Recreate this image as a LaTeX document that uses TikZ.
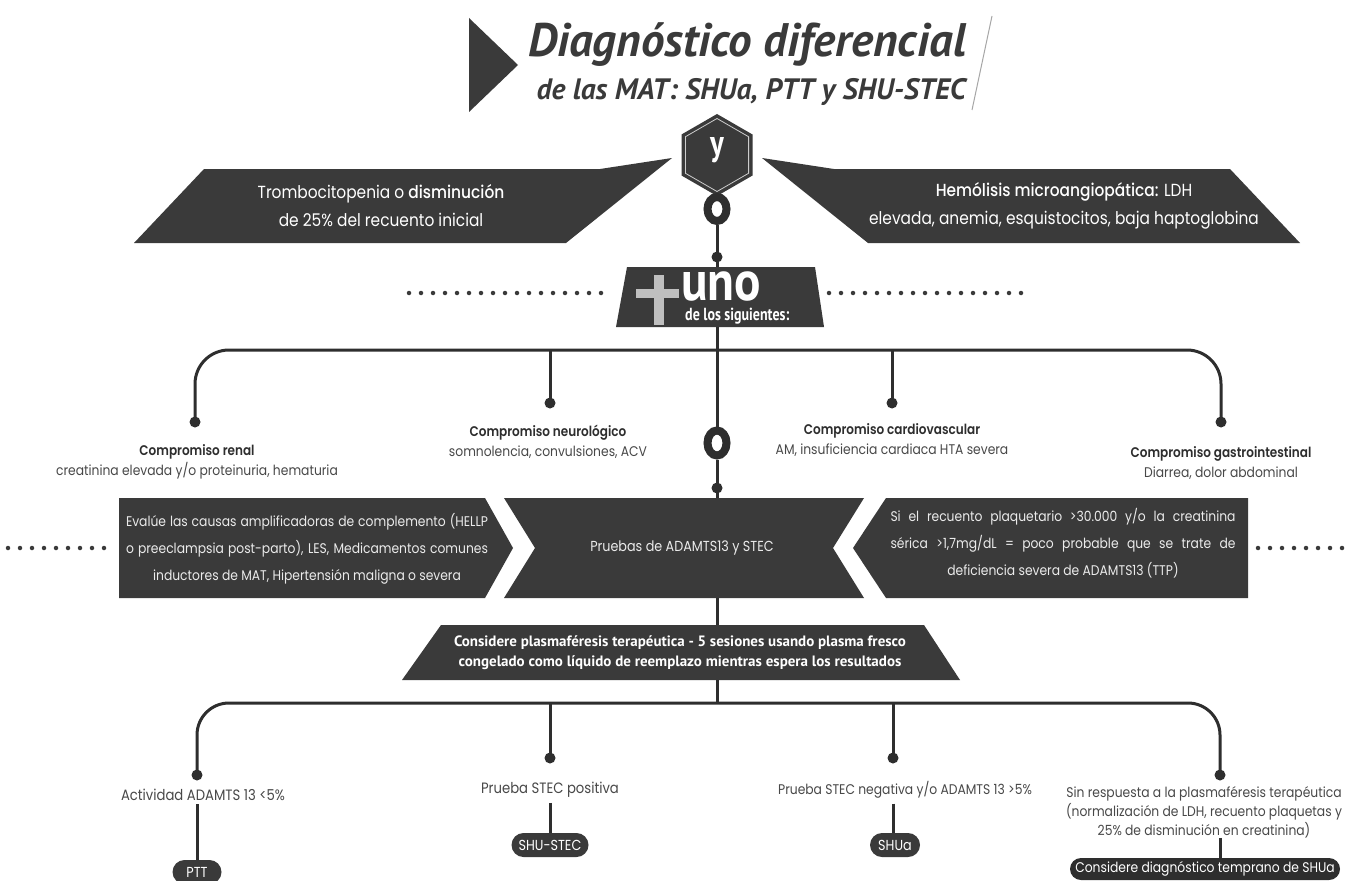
\documentclass[tikz,border=0pt]{standalone}
\usepackage{fontspec}
\setmainfont{Poppins}[FakeStretch=0.88]
\newfontfamily\medf{Poppins Medium}[FakeStretch=0.88]
\newfontfamily\semf{Poppins SemiBold}[FakeStretch=0.86]
\newfontfamily\condf[FakeStretch=0.8]{PT Sans}
\newfontfamily\unof[FakeStretch=0.88]{PT Sans}
\newfontfamily\ptf{PT Sans}
\usetikzlibrary{shapes.geometric,shapes.misc}
\definecolor{dk}{HTML}{3A3A3A}
\definecolor{tx}{HTML}{484848}
\definecolor{ln}{HTML}{2E2E2E}
\newcommand\jline[2]{\makebox[#1][s]{#2}}
\begin{document}
\begin{tikzpicture}[x=1pt,y=-1pt,
  conn/.style={draw=ln,line width=3pt},
  dotn/.style={circle,fill=ln,inner sep=0pt,minimum size=11pt},
  ringn/.style={ellipse,draw=ln,line width=8pt,minimum width=19pt,minimum height=24pt,inner sep=0pt},
  dotline/.style={draw=dk,line width=4.5pt,line cap=round,dash pattern=on 0pt off 12pt},
  wtxt/.style={text=white,font=\fontsize{17.5}{28}\selectfont,align=center,inner sep=0pt},
  btxt/.style={text=tx,font=\fontsize{14}{20}\selectfont,align=center,inner sep=0pt},
  ptxt/.style={text=white!92!black,font=\fontsize{14}{27}\selectfont,align=center,inner sep=0pt},
  pill/.style={rounded rectangle,fill=dk,text=white,minimum height=24pt,inner ysep=0pt,inner xsep=7pt,font=\fontsize{14.5}{16}\selectfont}
]
\useasboundingbox (0,0) rectangle (1348,880);
\fill[white] (0,0) rectangle (1348,880);

% ---------- title ----------
\fill[dk] (469,18) -- (518,65) -- (469,112) -- cycle;
\node[anchor=base east,inner sep=0pt,text=dk,font=\ptf\bfseries\itshape\fontsize{47}{47}\selectfont] (t1) at (966,57) {Diagnóstico diferencial};
\node[anchor=base east,inner sep=0pt,text=dk,font=\ptf\bfseries\itshape\fontsize{29.5}{30}\selectfont] (t2) at (966,100) {de las MAT: SHUa, PTT y SHU-STEC};
\draw[gray!70,line width=1pt] (992,16) -- (972,110);

% ---------- top banners ----------
\fill[dk] (672,158) -- (600,169) -- (204,169) -- (134,243) -- (566,243) -- cycle;
\node[wtxt] (tromb) at (381,206) {Trombocitopenia o {\medf disminución}\\de 25\% del recuento inicial};
\fill[dk] (762,158) -- (834,169) -- (1230,169) -- (1300,243) -- (868,243) -- cycle;
\node[wtxt] (hemo) at (1064,206) {{\medf Hemólisis microangiopática:} LDH\\elevada, anemia, esquistocitos, baja haptoglobina};

% ---------- hexagon y ----------
\node[regular polygon,regular polygon sides=6,shape border rotate=30,fill=dk,minimum size=82pt,inner sep=0pt] (hex) at (717,155) {};
\node[regular polygon,regular polygon sides=6,shape border rotate=30,draw=white!80!black,line width=0.8pt,minimum size=73pt,inner sep=0pt] (hexin) at (717,155) {};
\node[text=white,font=\condf\bfseries\fontsize{36}{36}\selectfont,inner sep=0pt] (ylet) at (717,150) {y};

\node[ringn] (r1) at (717,209) {};
\node[dotn] (p1) at (717,257) {};
\draw[conn] (r1.south) -- (p1.center);

% ---------- uno box ----------
\fill[dk] (627,267) -- (815,267) -- (824,327) -- (616,327) -- cycle;
\coordinate (unoT) at (717,267);
\coordinate (unoB) at (717,327);
\fill[gray!50] (654,275) rectangle (664,325);
\fill[gray!50] (636,289) rectangle (679,298);
\node[anchor=base west,inner sep=0pt,text=white,font=\unof\bfseries\fontsize{56}{56}\selectfont] (unot) at (681,300) {uno};
\node[anchor=base west,inner sep=0pt,text=white,font=\condf\bfseries\fontsize{17.5}{18}\selectfont] (unos) at (685,320) {de los siguientes:};
\draw[conn] (p1.center) -- (unoT);
\coordinate (dl1) at (409,293); \coordinate (dl2) at (610,293);
\coordinate (dr1) at (829,293); \coordinate (dr2) at (1025,293);
\draw[dotline] (dl1) -- (dl2);
\draw[dotline] (dr1) -- (dr2);

% ---------- first branching ----------
\coordinate (hub) at (717,350);
\node[dotn] (d1) at (195,422) {};
\node[dotn] (d2) at (550,403) {};
\node[dotn] (d3) at (892,403) {};
\node[dotn] (d4) at (1221,422) {};
\draw[conn,rounded corners=34pt] (d1.center) |- (hub) -| (d4.center);
\draw[conn] (d2.center) -- (d2.center |- hub);
\draw[conn] (d3.center) -- (d3.center |- hub);
\draw[conn] (unoB) -- (hub);

\node[btxt] (ren) at (197,462) {{\semf\color{ln}Compromiso renal}\\creatinina elevada y/o proteinuria, hematuria};
\node[btxt] (neu) at (548,442) {{\semf\color{ln}Compromiso neurológico}\\somnolencia, convulsiones, ACV};
\node[btxt] (car) at (892,440) {{\semf\color{ln}Compromiso cardiovascular}\\AM, insuficiencia cardiaca HTA severa};
\node[btxt] (gas) at (1221,463) {{\semf\color{ln}Compromiso gastrointestinal}\\Diarrea, dolor abdominal};

\node[ringn,minimum height=25pt] (r2) at (717,443) {};
\node[dotn] (p2) at (717,488) {};
\draw[conn] (hub) -- (r2.north);
\draw[conn] (r2.south) -- (p2.center);

% ---------- middle panels ----------
\fill[dk] (119,498) -- (485,498) -- (513,548) -- (485,598) -- (119,598) -- cycle;
\fill[dk] (504,498) -- (864,498) -- (833,548) -- (864,598) -- (504,598) -- (535,548) -- cycle;
\fill[dk] (886,498) -- (1248,498) -- (1248,598) -- (886,598) -- (853,548) -- cycle;
\coordinate (prT) at (717,498);
\coordinate (prB) at (717,598);
\draw[conn] (p2.center) -- (prT);
\node[ptxt] (evl) at (307,549) {\jline{362pt}{Evalúe las causas amplificadoras de complemento (HELLP}\\\jline{362pt}{o preeclampsia post-parto), LES, Medicamentos comunes}\\inductores de MAT, Hipertensión maligna o severa};
\node[ptxt,font=\fontsize{14.5}{20}\selectfont] (prb) at (682,548) {Pruebas de ADAMTS13 y STEC};
\node[ptxt] (sie) at (1063,543) {\jline{345pt}{Si el recuento plaquetario >30.000 y/o la creatinina}\\\jline{345pt}{sérica >1,7mg/dL = poco probable que se trate de}\\deficiencia severa de ADAMTS13 (TTP)};
\coordinate (ml1) at (8,548); \coordinate (ml2) at (112,548);
\coordinate (mr1) at (1258,548); \coordinate (mr2) at (1342,548);
\draw[dotline] (ml1) -- (ml2);
\draw[dotline] (mr1) -- (mr2);

% ---------- plasma box ----------
\fill[dk] (441,625) -- (924,625) -- (960,680) -- (402,680) -- cycle;
\coordinate (plT) at (717,625);
\coordinate (plB) at (717,680);
\node[text=white,font=\ptf\bfseries\fontsize{15}{20}\selectfont,align=center,inner sep=0pt] (pla) at (680,653) {\jline{452pt}{Considere plasmaféresis terapéutica - 5 sesiones usando plasma fresco}\\congelado como líquido de reemplazo mientras espera los resultados};
\draw[conn] (prB) -- (plT);

% ---------- second branching ----------
\coordinate (hub2) at (717,703);
\draw[conn] (plB) -- (hub2);
\node[dotn] (e1) at (197,775) {};
\node[dotn] (e2) at (550,758) {};
\node[dotn] (e3) at (893,758) {};
\node[dotn] (e4) at (1220,775) {};
\draw[conn,rounded corners=32pt] (e1.center) |- (hub2) -| (e4.center);
\draw[conn] (e2.center) -- (e2.center |- hub2);
\draw[conn] (e3.center) -- (e3.center |- hub2);

\node[btxt,font=\fontsize{15}{20}\selectfont] (a1) at (203,795) {Actividad ADAMTS 13 <5\%};
\node[btxt,font=\fontsize{15}{20}\selectfont] (a2) at (550,790) {Prueba STEC positiva};
\node[btxt,font=\fontsize{14}{20}\selectfont] (a3) at (905,790) {Prueba STEC negativa y/o ADAMTS 13 >5\%};
\node[btxt,font=\fontsize{14}{19}\selectfont] (a4) at (1204,812) {Sin respuesta a la plasmaféresis terapéutica\\(normalización de LDH, recuento plaquetas y\\25\% de disminución en creatinina)};

\node[pill,minimum width=63pt] (ptt) at (197,872) {PTT};
\node[pill,minimum width=91pt] (shs) at (550,845) {SHU-STEC};
\node[pill,minimum width=64pt] (shu) at (895,845) {SHUa};
\node[pill,fill=ln,minimum width=284pt,minimum height=22pt,font=\fontsize{14}{16}\selectfont] (fin) at (1205,869) {Considere diagnóstico temprano de SHUa};

\draw[conn] (a1.south -| e1) ++(0,3) -- (ptt.north -| e1);
\draw[conn] (a2.south -| e2) ++(0,5) -- (shs.north -| e2);
\draw[conn] (a3.south -| e3) ++(0,5) -- (shu.north -| e3);
\draw[conn] (a4.south -| e4) -- (fin.north -| e4);
\end{tikzpicture}
\end{document}
